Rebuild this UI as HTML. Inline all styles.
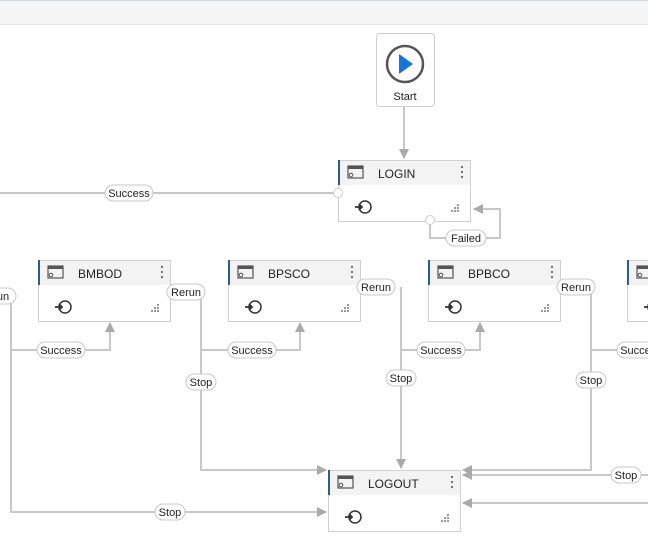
<!DOCTYPE html>
<html><head><meta charset="utf-8"><style>
html,body{margin:0;padding:0;background:#fff;}
svg{display:block;font-family:"Liberation Sans",sans-serif;}
</style></head><body>
<svg width="648" height="550" viewBox="0 0 648 550" xmlns="http://www.w3.org/2000/svg">
<defs>
<marker id="a" markerWidth="10" markerHeight="10" refX="9" refY="5" orient="auto" markerUnits="userSpaceOnUse">
<path d="M0,0 L10,5 L0,10 Z" fill="#aaa"/></marker>
<g id="node">
<rect x="0.5" y="0.5" width="132" height="61" fill="#fff" stroke="#d0d0d0"/>
<rect x="1" y="1" width="131" height="24" fill="#f3f3f3"/>
<rect x="0" y="0" width="2" height="25" fill="#2a5d8c"/>
<rect x="10" y="6" width="15" height="12" fill="none" stroke="#555" stroke-width="1.2"/>
<rect x="10" y="6" width="15" height="3" fill="#555"/>
<circle cx="13" cy="15" r="1.8" fill="none" stroke="#555"/>
<circle cx="124" cy="7" r="1.1" fill="#666"/><circle cx="124" cy="12" r="1.1" fill="#666"/><circle cx="124" cy="17" r="1.1" fill="#666"/>
<circle cx="27" cy="47" r="6" fill="none" stroke="#333" stroke-width="1.5"/>
<path d="M17,47 h7 M21,44 l3,3 l-3,3" stroke="#333" stroke-width="1.8" fill="none"/>
<g fill="#999"><rect x="119" y="44" width="2" height="2"/><rect x="116" y="47" width="2" height="2"/><rect x="119" y="47" width="2" height="2"/><rect x="113" y="50" width="2" height="2"/><rect x="116" y="50" width="2" height="2"/><rect x="119" y="50" width="2" height="2"/></g>
</g>
</defs>
<rect x="0" y="0" width="648" height="1" fill="#d3d8dd"/>
<rect x="0" y="1" width="648" height="23" fill="#f5f5f5"/>
<rect x="0" y="24" width="648" height="1" fill="#e6e6e6"/>

<g stroke="#c8c8c8" stroke-width="2" fill="none">
<path d="M404,107 V158" marker-end="url(#a)"/>
<path d="M338,193 H0"/>
<path d="M430,220 V238 H500 V209 H474" marker-end="url(#a)"/>
<path d="M11,296 V512 H326" marker-end="url(#a)"/>
<path d="M11,350 H110 V323" marker-end="url(#a)"/>
<path d="M201,292 V470 H326" marker-end="url(#a)"/>
<path d="M201,350 H300 V323" marker-end="url(#a)"/>
<path d="M401,287 V468" marker-end="url(#a)"/>
<path d="M401,350 H480 V323" marker-end="url(#a)"/>
<path d="M591,287 V470 H463" marker-end="url(#a)"/>
<path d="M591,350 H648"/>
<path d="M648,475 H463" marker-end="url(#a)"/>
<path d="M648,503 H463" marker-end="url(#a)"/>
</g>

<rect x="376.5" y="33.5" width="58" height="73" rx="3" fill="#fff" stroke="#d0d0d0"/>
<circle cx="405" cy="64" r="18" fill="#fff" stroke="#555" stroke-width="2.5"/>
<path d="M399,54 L413,64 L399,74 Z" fill="#1a73d9"/>
<text x="405" y="100" font-size="11" text-anchor="middle" fill="#222">Start</text>

<use href="#node" x="338" y="160"/>
<text x="378" y="178" font-size="12" fill="#222">LOGIN</text>
<circle cx="338" cy="193" r="4.5" fill="#fff" stroke="#ccc"/>
<circle cx="430" cy="220" r="4.5" fill="#fff" stroke="#ccc"/>

<use href="#node" x="38" y="260"/>
<text x="78" y="278" font-size="12" fill="#222">BMBOD</text>
<use href="#node" x="228" y="260"/>
<text x="268" y="278" font-size="12" fill="#222">BPSCO</text>
<use href="#node" x="428" y="260"/>
<text x="468" y="278" font-size="12" fill="#222">BPBCO</text>
<use href="#node" x="627" y="260"/>
<use href="#node" x="328" y="470"/>
<text x="368" y="488" font-size="12" fill="#222">LOGOUT</text>

<g font-size="11" fill="#222" text-anchor="middle">
<g fill="#fff" stroke="#c8c8c8">
<rect x="105" y="185" width="48" height="16" rx="8"/>
<rect x="446" y="230" width="40" height="16" rx="8"/>
<rect x="-10" y="288" width="26" height="16" rx="8"/>
<rect x="167" y="284" width="38" height="16" rx="8"/>
<rect x="357" y="279" width="38" height="16" rx="8"/>
<rect x="557" y="279" width="38" height="16" rx="8"/>
<rect x="37" y="342" width="48" height="16" rx="8"/>
<rect x="228" y="342" width="48" height="16" rx="8"/>
<rect x="417" y="342" width="48" height="16" rx="8"/>
<rect x="617" y="342" width="48" height="16" rx="8"/>
<rect x="186" y="374" width="30" height="16" rx="8"/>
<rect x="386" y="370" width="30" height="16" rx="8"/>
<rect x="576" y="372" width="30" height="16" rx="8"/>
<rect x="155" y="504" width="30" height="16" rx="8"/>
<rect x="611" y="467" width="30" height="16" rx="8"/>
</g>
<text x="129" y="197">Success</text>
<text x="466" y="242">Failed</text>
<text x="3" y="300">un</text>
<text x="186" y="296">Rerun</text>
<text x="376" y="291">Rerun</text>
<text x="576" y="291">Rerun</text>
<text x="61" y="354">Success</text>
<text x="252" y="354">Success</text>
<text x="441" y="354">Success</text>
<text x="641" y="354">Success</text>
<text x="201" y="386">Stop</text>
<text x="401" y="382">Stop</text>
<text x="591" y="384">Stop</text>
<text x="170" y="516">Stop</text>
<text x="626" y="479">Stop</text>
</g>
</svg>
</body></html>
